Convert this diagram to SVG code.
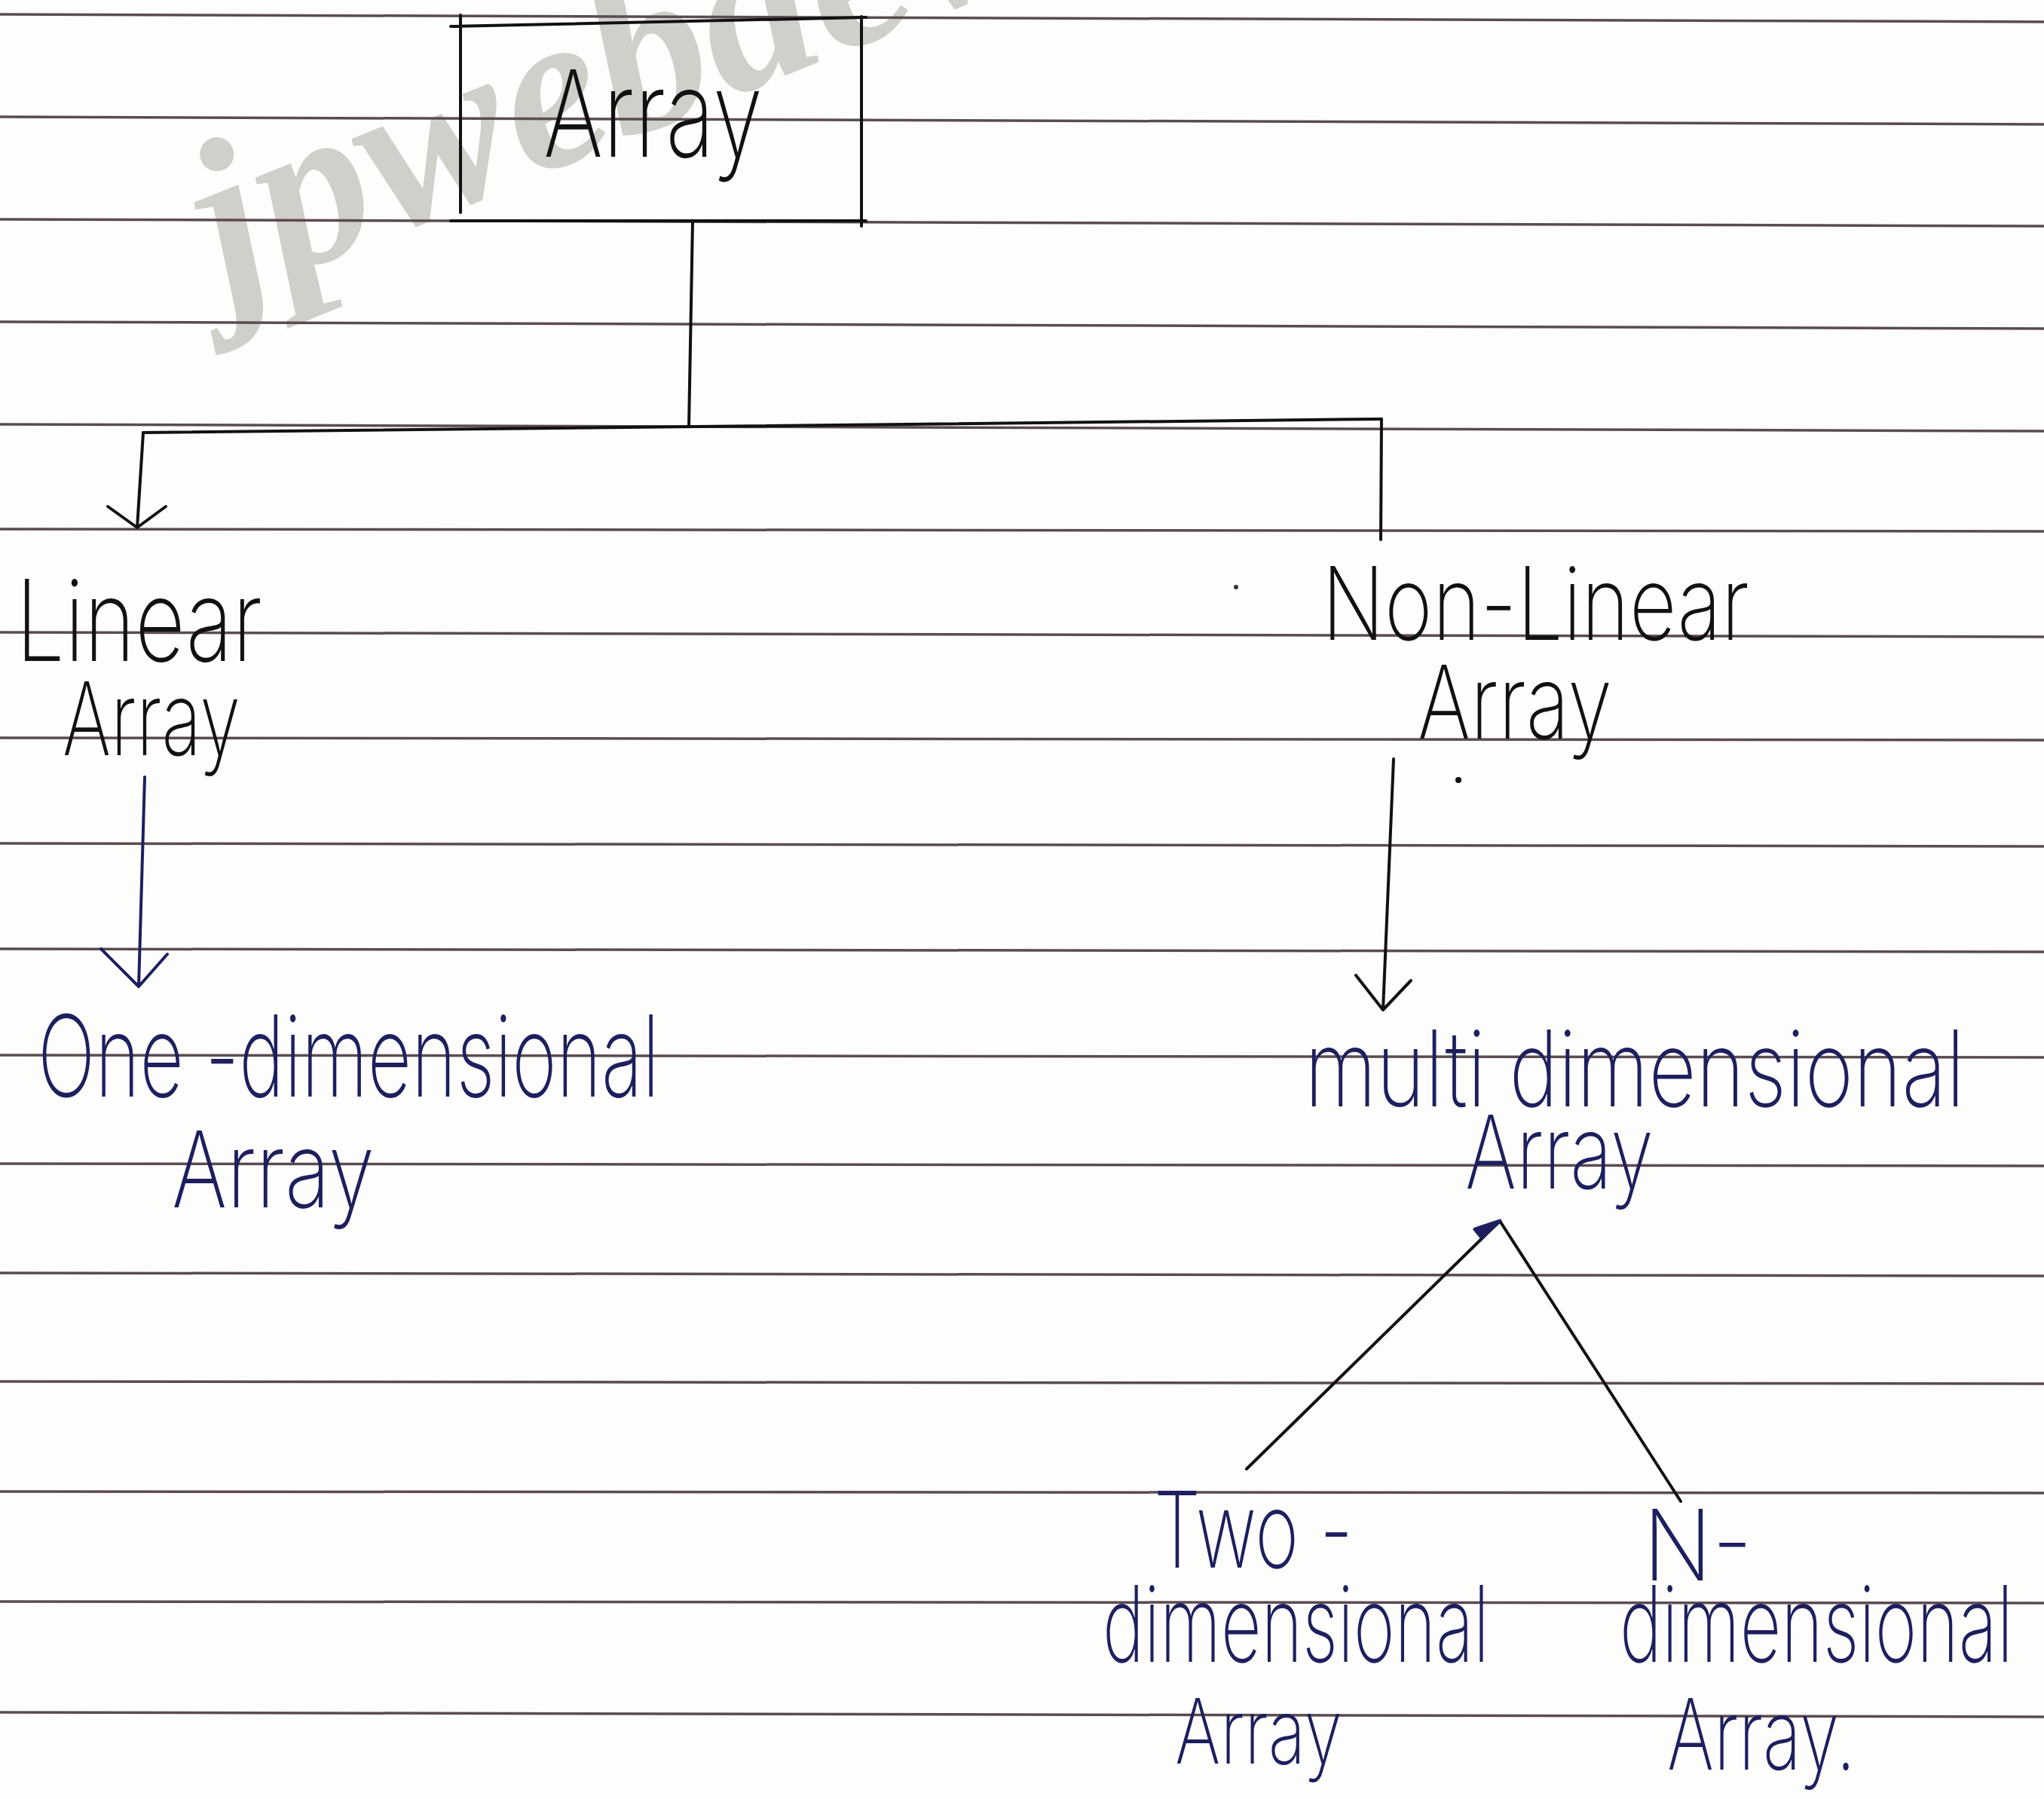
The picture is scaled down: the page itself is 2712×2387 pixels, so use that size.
<svg xmlns="http://www.w3.org/2000/svg" width="2712" height="2387" viewBox="0 0 2712 2387">
<style>
.rule{stroke:#5b4b50;stroke-width:3.5;fill:none}
.ink{stroke:#111;stroke-width:4;fill:none;stroke-linecap:round;stroke-linejoin:round}
.blue{stroke:#1d1f5e;stroke-width:4;fill:none;stroke-linecap:round;stroke-linejoin:round}
.t{font-family:Inter,"Liberation Sans",sans-serif;font-weight:200;fill:#111}
.tb{font-family:Inter,"Liberation Sans",sans-serif;font-weight:200;fill:#1d1f5e}
.wm{font-family:"Liberation Serif",serif;font-style:italic;font-weight:bold;fill:#cfd0c9}
</style>
<rect width="2712" height="2387" fill="#fdfdfc"/>
<text class="wm" font-size="300" transform="translate(300,400) rotate(-22)">jpwebdev</text>
<g id="ruled-lines">
<line class="rule" x1="0" y1="19" x2="2712" y2="29"/>
<line class="rule" x1="0" y1="155" x2="2712" y2="165"/>
<line class="rule" x1="0" y1="291" x2="2712" y2="300"/>
<line class="rule" x1="0" y1="427" x2="2712" y2="436"/>
<line class="rule" x1="0" y1="563" x2="2712" y2="572"/>
<line class="rule" x1="0" y1="702" x2="2712" y2="705"/>
<line class="rule" x1="0" y1="839" x2="2712" y2="845"/>
<line class="rule" x1="0" y1="979" x2="2712" y2="982"/>
<line class="rule" x1="0" y1="1119" x2="2712" y2="1123"/>
<line class="rule" x1="0" y1="1259" x2="2712" y2="1263"/>
<line class="rule" x1="0" y1="1400" x2="2712" y2="1403"/>
<line class="rule" x1="0" y1="1544" x2="2712" y2="1547"/>
<line class="rule" x1="0" y1="1689" x2="2712" y2="1693"/>
<line class="rule" x1="0" y1="1833" x2="2712" y2="1836"/>
<line class="rule" x1="0" y1="1979" x2="2712" y2="1981"/>
<line class="rule" x1="0" y1="2125" x2="2712" y2="2127"/>
<line class="rule" x1="0" y1="2272" x2="2712" y2="2278"/>
</g>
<g id="connectors">
<path class="ink" d="M919 293 L914 566"/>
<path class="ink" d="M190 574 L1833 556"/>
<path class="ink" d="M190 574 L182 700 M143 672 L182 700 L220 672"/>
<path class="ink" d="M1833 556 L1832 716"/>
<path class="blue" d="M192 1031 L184 1309 M134 1259 L184 1309 L222 1266"/>
<path class="ink" d="M1849 1007 L1835 1340 M1799 1294 L1835 1340 L1872 1301"/>
<path class="ink" d="M1654 1949 L1990 1620 L2230 1992"/>
<path d="M1990 1620 L1957 1631 L1966 1642 Z" fill="#1d1f5e" stroke="#1d1f5e" stroke-width="5" stroke-linejoin="round"/>
</g>
<g id="node-array">
<path class="ink" d="M598 35 L1149 23 M611 20 L611 282 M1143 22 L1143 300 M598 293 L1149 293"/>
<text class="t" x="721" y="208" font-size="160" textLength="291" lengthAdjust="spacingAndGlyphs">Array</text>
</g>
<g id="node-linear">
<text class="t" x="21" y="877" font-size="150" textLength="327" lengthAdjust="spacingAndGlyphs">Linear</text>
<text class="t" x="83" y="1002" font-size="135" textLength="236" lengthAdjust="spacingAndGlyphs">Array</text>
</g>
<g id="node-nonlinear">
<text class="t" x="1754" y="849" font-size="135" textLength="567" lengthAdjust="spacingAndGlyphs">Non-Linear</text>
<text class="t" x="1881" y="980" font-size="135" textLength="258" lengthAdjust="spacingAndGlyphs">Array</text>
<circle cx="1935" cy="1035" r="4" fill="#111"/>
<circle cx="1640" cy="779" r="3" fill="#333"/>
</g>
<g id="node-one-dimensional">
<text class="tb" x="50" y="1455" font-size="150" textLength="825" lengthAdjust="spacingAndGlyphs">One -dimensional</text>
<text class="tb" x="228" y="1602" font-size="140" textLength="269" lengthAdjust="spacingAndGlyphs">Array</text>
</g>
<g id="node-multi-dimensional">
<text class="tb" x="1731" y="1468" font-size="140" textLength="876" lengthAdjust="spacingAndGlyphs">multi dimensional</text>
<text class="tb" x="1944" y="1577" font-size="135" textLength="250" lengthAdjust="spacingAndGlyphs">Array</text>
</g>
<g id="node-two-dimensional">
<text class="tb" x="1531" y="2080" font-size="140" textLength="264" lengthAdjust="spacingAndGlyphs">Two -</text>
<text class="tb" x="1463" y="2205" font-size="140" textLength="513" lengthAdjust="spacingAndGlyphs">dimensional</text>
<text class="tb" x="1559" y="2340" font-size="120" textLength="222" lengthAdjust="spacingAndGlyphs">Array</text>
</g>
<g id="node-n-dimensional">
<text class="tb" x="2180" y="2097" font-size="130" textLength="145" lengthAdjust="spacingAndGlyphs">N-</text>
<text class="tb" x="2149" y="2205" font-size="140" textLength="522" lengthAdjust="spacingAndGlyphs">dimensional</text>
<text class="tb" x="2212" y="2348" font-size="130" textLength="250" lengthAdjust="spacingAndGlyphs">Array.</text>
</g>
</svg>
